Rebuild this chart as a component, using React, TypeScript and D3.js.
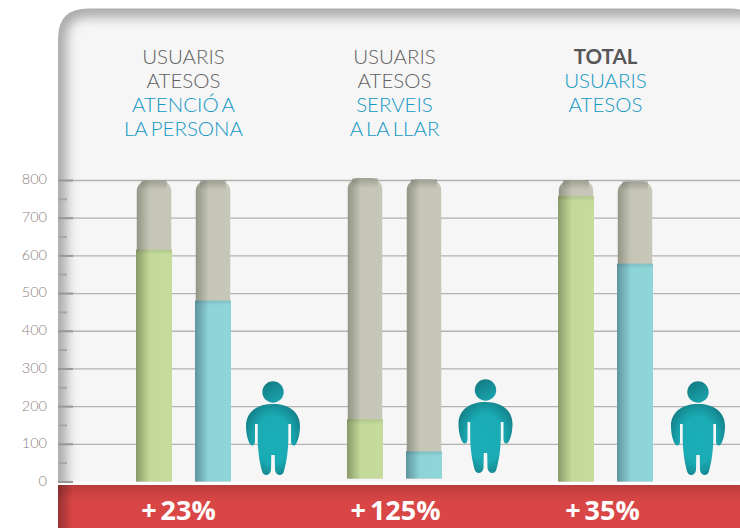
// App.tsx
import React, { useEffect, useRef } from 'react';
import * as d3 from 'd3';

const majorTicks = [0, 100, 200, 300, 400, 500, 600, 700, 800];
const minorTicks = [50, 150, 250, 350, 450, 550, 650, 750];

const greyTitles = [['USUARIS', 'ATESOS'], ['USUARIS', 'ATESOS'], []];
const boldTitles = [[], [], ['TOTAL']];
const blueTitles = [['ATENCIÓ A', 'LA PERSONA'], ['SERVEIS', 'A LA LLAR'], ['USUARIS', 'ATESOS']];
const percentLabels = ['23%', '125%', '35%'];

// each group: [first bar, second bar]
const greenValues = [615, 165, 757];
const blueValues = [480, 80, 578];
const greenTracks = [799, 805, 800];
const blueTracks = [799, 802, 797];
const baseValues = [0, 8, 0];

const App = () => {
    const svgRef = useRef<SVGSVGElement>(null);

    useEffect(() => {
        const svg = d3.select(svgRef.current);
        svg.selectAll('*').remove();

        const left = 58;
        const right = 740;
        const y = d3.scaleLinear().domain([0, 800]).range([481.5, 180]);

        // group centres, bars sit either side
        const groupX = d3.scaleBand<number>().domain([0, 1, 2]).range([78, 711]);
        const cx = (i: number) => groupX(i)! + groupX.bandwidth() / 2;
        const barW = 36;
        const greenX = (i: number) => cx(i) - 47.5;
        const blueX = (i: number) => cx(i) + 11.5;
        const personOffset = [89.5, 91, 92.5];
        const percentOffset = [-5, 1, -3];

        const defs = svg.append('defs');
        const hGrad = (id: string, c0: string, c1: string, c2: string) => {
            const g = defs.append('linearGradient').attr('id', id);
            g.append('stop').attr('offset', '0%').attr('stop-color', c0);
            g.append('stop').attr('offset', '38%').attr('stop-color', c1);
            g.append('stop').attr('offset', '100%').attr('stop-color', c2);
        };
        hGrad('greenBar', '#8a9a68', '#c3da9a', '#c5dc9c');
        hGrad('blueBar', '#60949f', '#8dd3d7', '#8fd6d9');
        hGrad('greyBar', '#929485', '#c5c6b6', '#c6c7b8');

        const topShade = defs.append('linearGradient').attr('id', 'topShade').attr('x2', 0).attr('y2', 1);
        topShade.append('stop').attr('offset', '0%').attr('stop-color', '#000').attr('stop-opacity', 0.2);
        topShade.append('stop').attr('offset', '100%').attr('stop-color', '#000').attr('stop-opacity', 0);

        const redTop = defs.append('linearGradient').attr('id', 'redTop').attr('x2', 0).attr('y2', 1);
        redTop.append('stop').attr('offset', '0%').attr('stop-color', '#000').attr('stop-opacity', 0.14);
        redTop.append('stop').attr('offset', '100%').attr('stop-color', '#000').attr('stop-opacity', 0);
        const redLeft = defs.append('linearGradient').attr('id', 'redLeft');
        redLeft.append('stop').attr('offset', '0%').attr('stop-color', '#000').attr('stop-opacity', 0.3);
        redLeft.append('stop').attr('offset', '100%').attr('stop-color', '#000').attr('stop-opacity', 0);

        const body = defs.append('radialGradient').attr('id', 'personBody')
            .attr('cx', '50%').attr('cy', '50%').attr('r', '60%');
        body.append('stop').attr('offset', '0%').attr('stop-color', '#1aafb8');
        body.append('stop').attr('offset', '55%').attr('stop-color', '#1aabb4');
        body.append('stop').attr('offset', '100%').attr('stop-color', '#137a82');
        const head = defs.append('linearGradient').attr('id', 'personHead')
            .attr('x1', 0.2).attr('y1', 0).attr('x2', 0.8).attr('y2', 1);
        head.append('stop').attr('offset', '0%').attr('stop-color', '#137a82');
        head.append('stop').attr('offset', '100%').attr('stop-color', '#1aa6af');

        defs.append('filter').attr('id', 'blur')
            .attr('x', '-10%').attr('y', '-10%').attr('width', '120%').attr('height', '120%')
            .append('feGaussianBlur').attr('stdDeviation', 7);

        // panel: rounded at the top only
        const panelPath = `M${left},481.5 V38.5 Q${left},8.5 88,8.5 H730 Q760,8.5 760,38.5 V481.5 Z`;
        defs.append('clipPath').attr('id', 'panelClip').append('path').attr('d', panelPath);

        svg.append('rect').attr('width', 740).attr('height', 528).attr('fill', '#fff');
        const panel = svg.append('g').attr('clip-path', 'url(#panelClip)');
        panel.append('path').attr('d', panelPath).attr('fill', '#f6f6f6');
        panel.append('path')
            .attr('d', `M${left},600 V38.5 Q${left},8.5 88,8.5 H800`)
            .attr('fill', 'none').attr('stroke', '#8f8f8f').attr('stroke-width', 13)
            .attr('filter', 'url(#blur)');

        // gridlines + ticks
        const grid = svg.append('g').attr('transform', `translate(${left},0)`)
            .call(d3.axisRight(y).tickValues(majorTicks.slice(1)).tickSize(right - left).tickFormat(() => ''));
        grid.select('.domain').remove();
        grid.selectAll('.tick line').attr('stroke', '#b2b2b0').attr('stroke-width', 1.3);

        const major = svg.append('g').attr('transform', `translate(${left},0)`)
            .call(d3.axisRight(y).tickValues(majorTicks).tickSize(15).tickFormat(() => ''));
        major.select('.domain').remove();
        major.selectAll('.tick line').attr('stroke', '#989896').attr('stroke-width', 2);

        const minor = svg.append('g').attr('transform', `translate(${left},0)`)
            .call(d3.axisRight(y).tickValues(minorTicks).tickSize(9).tickFormat(() => ''));
        minor.select('.domain').remove();
        minor.selectAll('.tick line').attr('stroke', '#a6a6a4').attr('stroke-width', 2);

        const labels = svg.append('g').attr('transform', `translate(${left},0)`)
            .call(d3.axisLeft(y).tickValues(majorTicks).tickSize(0).tickPadding(11));
        labels.select('.domain').remove();
        labels.selectAll('.tick text')
            .attr('fill', '#8b827b').attr('font-family', 'Lato').attr('font-size', 14.5)
            .attr('font-weight', 300).attr('dy', '0.27em');

        // bars
        const track = (x: number, value: number, base: number) => {
            const p = d3.path();
            const w = barW - 1.5;
            const x0 = x + 0.75;
            const r = 11;
            const t = y(value);
            p.moveTo(x0, y(base));
            p.lineTo(x0, t + r);
            p.arcTo(x0, t, x0 + r, t, r);
            p.lineTo(x0 + w - r, t);
            p.arcTo(x0 + w, t, x0 + w, t + r, r);
            p.lineTo(x0 + w, y(base));
            p.closePath();
            return p.toString();
        };

        const drawBar = (x: number, tv: number, v: number, base: number, fill: string) => {
            svg.append('path').attr('d', track(x, tv, base)).attr('fill', 'url(#greyBar)');
            svg.append('rect').attr('x', x + 5).attr('y', y(tv)).attr('width', barW - 10).attr('height', 10)
                .attr('fill', 'url(#topShade)');
            svg.append('rect').attr('x', x).attr('y', y(v)).attr('width', barW).attr('height', y(base) - y(v))
                .attr('fill', fill);
            svg.append('rect').attr('x', x).attr('y', y(v)).attr('width', barW).attr('height', 5)
                .attr('fill', 'url(#topShade)').attr('opacity', 0.5);
        };

        groupX.domain().forEach(i => {
            drawBar(greenX(i), greenTracks[i], greenValues[i], baseValues[i], 'url(#greenBar)');
            drawBar(blueX(i), blueTracks[i], blueValues[i], baseValues[i], 'url(#blueBar)');
        });

        // little person, drawn around head centre
        const personPath = 'M0,12 C-16,12 -27,20 -27,34 C-27,42 -25,49 -23,52 C-21,54.5 -18.5,54 -18,50 '
            + 'L-18,32 L-15.3,32 L-15.3,46 C-15.3,60 -13,72 -11,79 C-10,84.5 -3,84.5 -2,78 L-1.7,63 L1.7,63 L2,78 '
            + 'C3,84.5 10,84.5 11,79 C13,72 15.3,60 15.3,46 L15.3,32 L18,32 L18,50 C18.5,54 21,54.5 23,52 '
            + 'C25,49 27,42 27,34 C27,20 16,12 0,12 Z';
        groupX.domain().forEach(i => {
            const g = svg.append('g').attr('transform', `translate(${cx(i) + personOffset[i]},${i === 1 ? 390 : 392})`);
            g.append('circle').attr('r', 10.7).attr('fill', 'url(#personHead)');
            g.append('path').attr('d', personPath).attr('fill', 'url(#personBody)');
        });

        // titles
        groupX.domain().forEach(i => {
            const rows = [
                ...boldTitles[i].map(t => ({ t, fill: '#575757', weight: 700 })),
                ...greyTitles[i].map(t => ({ t, fill: '#5f5f5f', weight: 300 })),
                ...blueTitles[i].map(t => ({ t, fill: '#1298c4', weight: 300 })),
            ];
            rows.forEach((r, k) => {
                svg.append('text')
                    .attr('x', cx(i)).attr('y', 64 + k * 24)
                    .attr('text-anchor', 'middle')
                    .attr('font-family', 'Lato').attr('font-size', 20.5)
                    .attr('font-weight', r.weight).attr('fill', r.fill)
                    .attr('word-spacing', -2)
                    .text(r.t);
            });
        });

        // red band
        svg.append('rect').attr('x', left).attr('y', 485).attr('width', right - left).attr('height', 43).attr('fill', '#d94646');
        svg.append('rect').attr('x', left).attr('y', 485).attr('width', right - left).attr('height', 16).attr('fill', 'url(#redTop)');
        svg.append('rect').attr('x', left).attr('y', 485).attr('width', 15).attr('height', 43).attr('fill', 'url(#redLeft)');

        percentLabels.forEach((t, i) => {
            svg.append('text')
                .attr('x', cx(i) + percentOffset[i]).attr('y', 520)
                .attr('text-anchor', 'middle')
                .attr('font-family', 'Open Sans').attr('font-size', 27)
                .attr('font-weight', 700).attr('fill', '#fff')
                .attr('word-spacing', -3)
                .text(`+ ${t}`);
        });
    }, []);

    return <svg ref={svgRef} width={740} height={528} style={{ position: 'absolute', left: 0, top: 0 }} />;
};

export default App;
